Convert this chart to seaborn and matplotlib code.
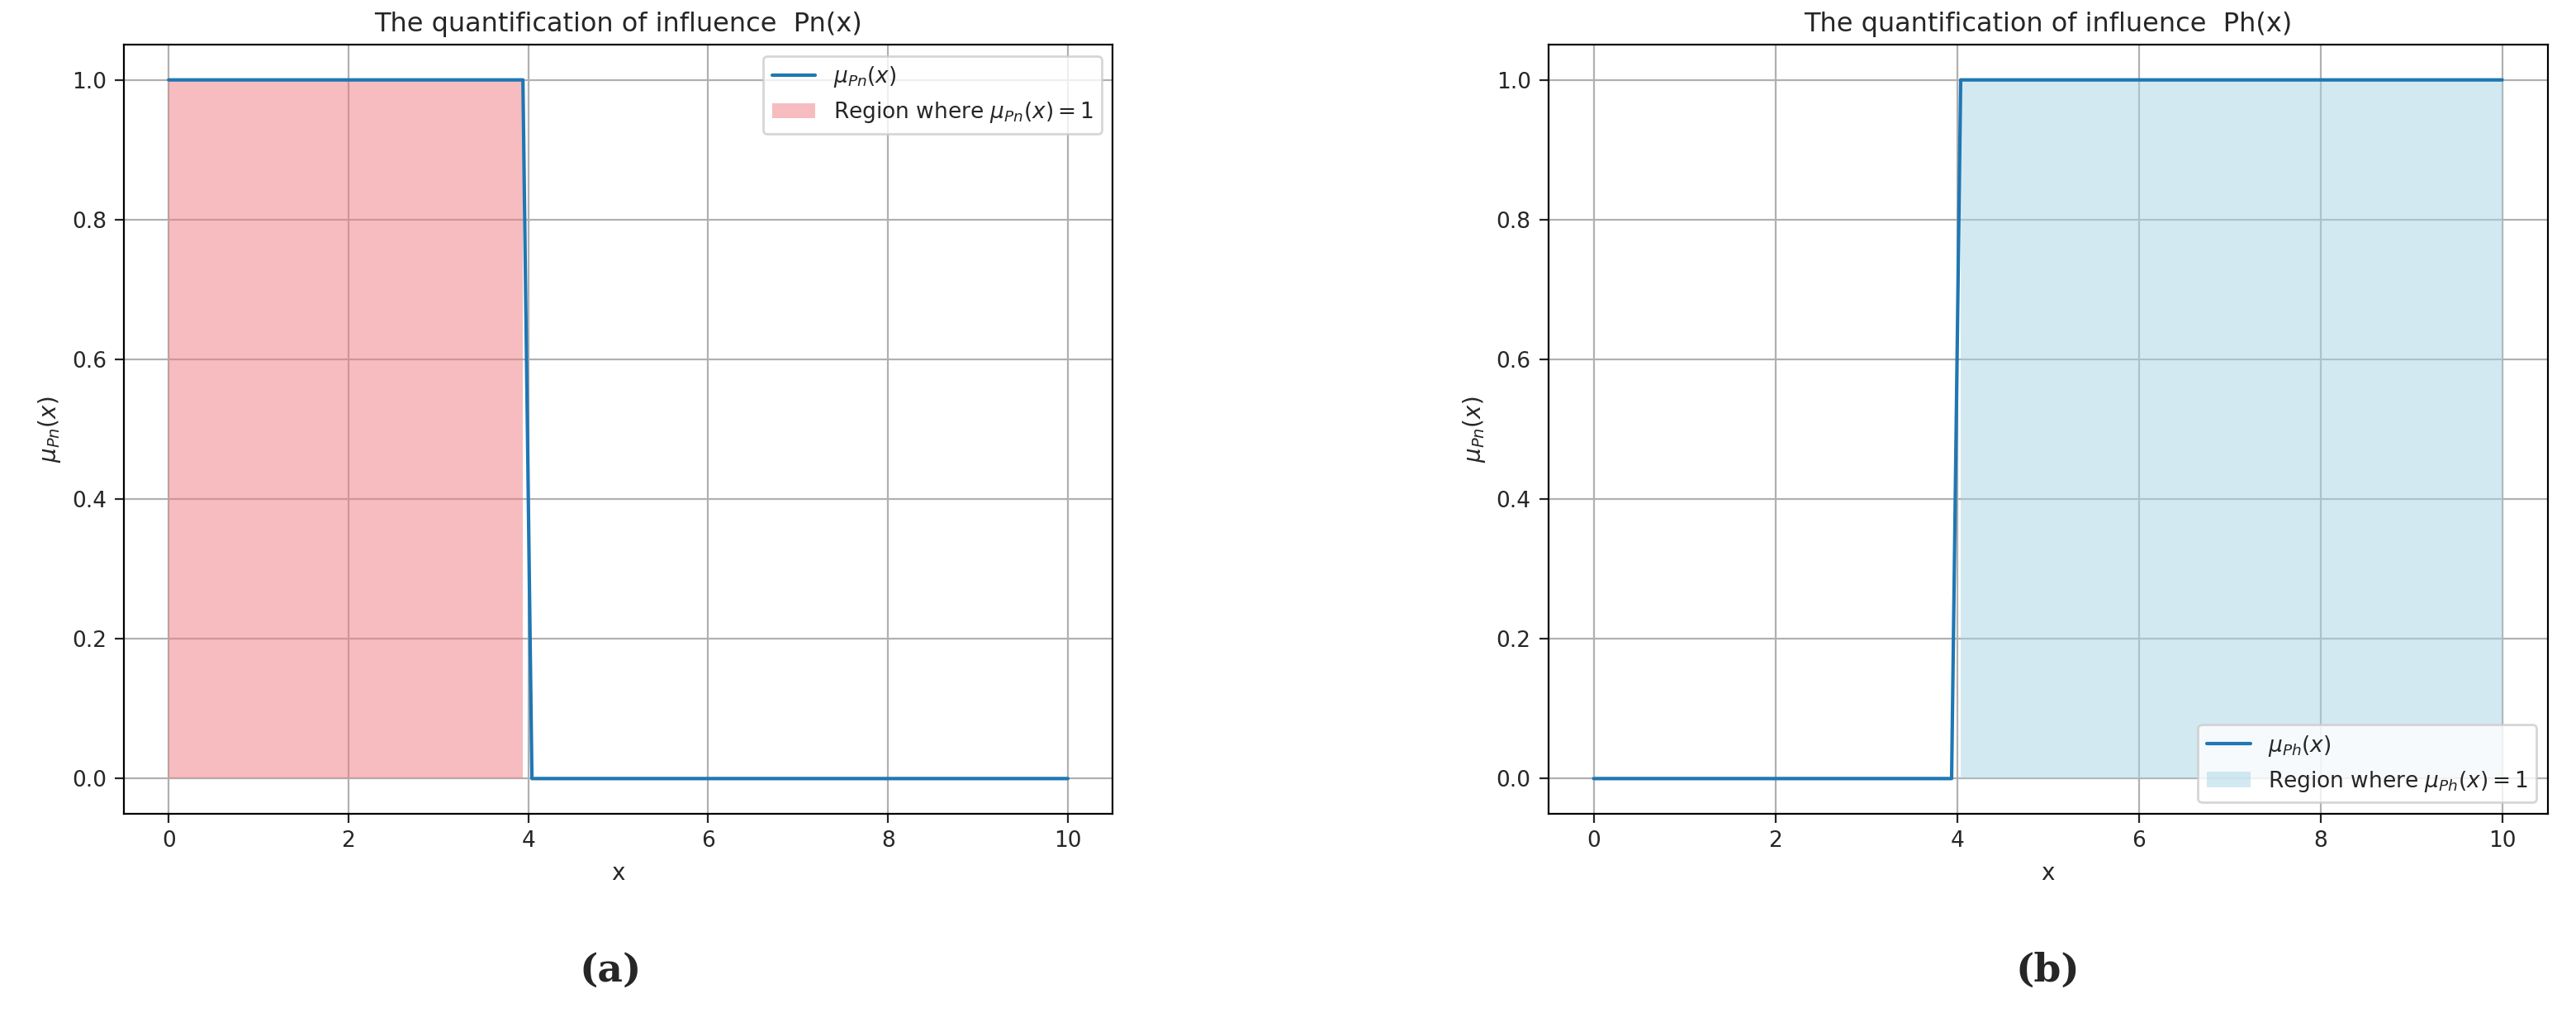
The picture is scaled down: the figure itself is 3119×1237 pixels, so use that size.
import matplotlib
matplotlib.use("Agg")
import matplotlib.pyplot as plt
import seaborn as sns
import numpy as np

sns.set_style("whitegrid")
plt.rcParams['font.family'] = ['DejaVu Sans']

x_pn = [0, 3.94, 4.04, 10]
y_pn = [1, 1, 0, 0]
x_ph = [0, 3.94, 4.04, 10]
y_ph = [0, 0, 1, 1]

fig = plt.figure(figsize=(15.595, 6.185), dpi=200)
ax1 = fig.add_axes([0.048, 0.204, 0.384, 0.752])
ax2 = fig.add_axes([0.601, 0.204, 0.388, 0.752])

def panel(ax, xs, ys, name, color, loc):
    sns.lineplot(x=xs, y=ys, ax=ax, color='#1f77b4', lw=1.5, label=rf'$\mu_{{{name}}}(x)$')
    ax.fill_between(xs, 0, ys, where=np.array(ys) == 1, color=color, alpha=0.5,
                    label=rf'Region where $\mu_{{{name}}}(x) = 1$', lw=0)
    ax.set_xlim(-0.5, 10.5)
    ax.set_ylim(-0.05, 1.05)
    ax.set_xticks([0, 2, 4, 6, 8, 10])
    ax.set_yticks([0, 0.2, 0.4, 0.6, 0.8, 1.0])
    ax.set_xlabel('x', fontsize=10)
    ax.set_ylabel(rf'$\mu_{{Pn}}(x)$', fontsize=10)
    ax.set_title(f'The quantification of influence  {name}(x)', fontsize=11.5)
    ax.tick_params(labelsize=9.5, length=4, left=True, bottom=True)
    ax.grid(True, color='#b0b0b0', lw=0.8)
    for s in ax.spines.values():
        s.set_color('black'); s.set_linewidth(0.8)
    ax.legend(loc=loc, fontsize=9.5, frameon=True)

panel(ax1, x_pn, y_pn, 'Pn', '#ee7b80', 'upper right')
panel(ax2, x_ph, y_ph, 'Ph', '#a8d5e5', 'lower right')

fig.text(0.237, 0.04, '(a)', ha='center', fontsize=17, family='DejaVu Serif', fontweight='bold')
fig.text(0.795, 0.04, '(b)', ha='center', fontsize=17, family='DejaVu Serif', fontweight='bold')
fig.savefig('out.png', dpi=200)
